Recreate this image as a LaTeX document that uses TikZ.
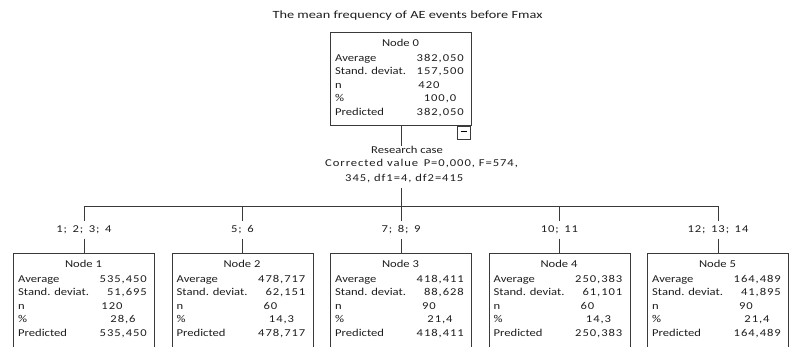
\documentclass[tikz,border=0pt]{standalone}
\usepackage{fontspec}
\setmainfont{Carlito}[FakeStretch=1.2]
\newfontfamily\numfont{Carlito}[FakeStretch=1.2, LetterSpace=9]
\usetikzlibrary{calc}
\definecolor{linec}{HTML}{3A3A3A}
\definecolor{textc}{HTML}{1E1E1E}
\tikzset{
  txt/.style={inner sep=0pt, text=textc, font=\fontsize{10.5}{12}\selectfont},
  numtxt/.style={txt, font=\fontsize{10.5}{12}\numfont},
  box/.style={draw=linec, line width=0.9pt, rectangle, inner sep=0pt,
              anchor=north west, minimum width=141pt},
  rowlbl/.style={txt, anchor=base west},
  rowval/.style={numtxt, anchor=base east},
  rowmid/.style={numtxt, anchor=base},
  boxtitle/.style={txt, anchor=base},
  branch/.style={numtxt, text height=7pt, text depth=2pt, inner ysep=4pt},
  wire/.style={draw=linec, line width=0.9pt},
  minusbox/.style={draw=linec, line width=0.9pt, minimum size=13pt, inner sep=0pt}
}
% one statistics box: name, corner, height, title, average, sd, n, %, predicted
\newcommand\statbox[9]{%
  \node[box, minimum height=#3pt] (#1) at (#2) {};
  \node[boxtitle] (#1-title) at ([xshift=70.5pt, yshift=-14pt]#1.north west) {#4};
  \node[rowlbl] (#1-l1) at ([xshift=5pt, yshift=-29pt]#1.north west) {Average};
  \node[rowlbl] (#1-l2) at ([xshift=5pt, yshift=-42.5pt]#1.north west) {Stand. deviat.};
  \node[rowlbl] (#1-l3) at ([xshift=5pt, yshift=-56pt]#1.north west) {n};
  \node[rowlbl] (#1-l4) at ([xshift=5pt, yshift=-69.5pt]#1.north west) {\%};
  \node[rowlbl] (#1-l5) at ([xshift=5pt, yshift=-83.5pt]#1.north west) {Predicted};
  \node[rowval] (#1-v1) at ([xshift=134pt, yshift=-29pt]#1.north west) {#5};
  \node[rowval] (#1-v2) at ([xshift=134pt, yshift=-42.5pt]#1.north west) {#6};
  \node[rowmid] (#1-v3) at ([xshift=99pt, yshift=-56pt]#1.north west) {#7};
  \node[rowmid] (#1-v4) at ([xshift=110pt, yshift=-69.5pt]#1.north west) {#8};
  \node[rowval] (#1-v5) at ([xshift=134pt, yshift=-83.5pt]#1.north west) {#9};
}
\begin{document}
\begin{tikzpicture}[x=1pt, y=-1pt]
  \useasboundingbox[fill=white] (0,0) rectangle (789,346);
  \clip (0,0) rectangle (789,346);

  \node[txt, anchor=base, font=\fontsize{11}{13}\selectfont\addfontfeature{FakeStretch=1.3}]
    (title) at (407.5,18) {The mean frequency of AE events before Fmax};

  % root node with its collapse button hanging below
  \statbox{n0}{330,32}{93}{Node 0}{382,050}{157,500}{420}{100,0}{382,050}
  \node[minusbox, anchor=north east] (n0-btn) at ([xshift=-1pt]n0.south east) {\rule[2.6pt]{6pt}{1.1pt}};

  % split description
  \node[txt, anchor=base] (rc1) at (407,153) {Research case};
  \node[numtxt, anchor=base west] (rc2) at (325,166.5) {Corrected value\, P=0,000, F=574,};
  \node[numtxt, anchor=base west] (rc3) at (345,181) {345, df1=4, df2=415};

  % child nodes (cut off at the lower edge)
  \statbox{n1}{13,253}{110}{Node 1}{535,450}{51,695}{120}{28,6}{535,450}
  \statbox{n2}{171.5,253}{110}{Node 2}{478,717}{62,151}{60}{14,3}{478,717}
  \statbox{n3}{330,253}{110}{Node 3}{418,411}{88,628}{90}{21,4}{418,411}
  \statbox{n4}{488.5,253}{110}{Node 4}{250,383}{61,101}{60}{14,3}{250,383}
  \statbox{n5}{647,253}{110}{Node 5}{164,489}{41,895}{90}{21,4}{164,489}

  % branch labels
  \node[branch] (b1) at (n1.north |- 0,230) {1;\, 2;\, 3;\, 4};
  \node[branch] (b2) at (n2.north |- 0,230) {5;\, 6};
  \node[branch] (b3) at (n3.north |- 0,230) {7;\, 8;\, 9};
  \node[branch] (b4) at (n4.north |- 0,230) {10;\, 11};
  \node[branch] (b5) at (n5.north |- 0,230) {12;\, 13;\, 14};

  % connectors
  \coordinate (split) at (n0.south |- 0,188);
  \coordinate (hub) at (n0.south |- 0,206);
  \coordinate (bus1) at (n1.north |- hub);
  \coordinate (bus5) at (n5.north |- hub);
  \draw[wire] (n0.south) -- (n0.south |- rc1.north);
  \draw[wire] (split) -- (hub);
  \draw[wire] (bus1) -- (bus5);
  \foreach \i in {1,...,5} {
    \draw[wire] (b\i.north |- hub) -- (b\i.north);
    \draw[wire] (b\i.south) -- (n\i.north);
  }
\end{tikzpicture}
\end{document}
